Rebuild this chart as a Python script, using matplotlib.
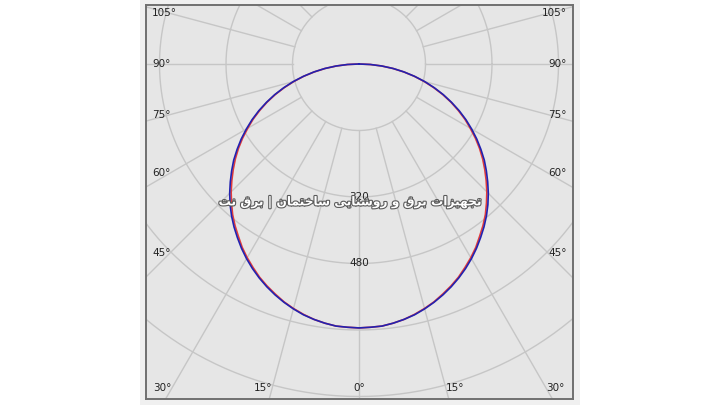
import numpy as np
import matplotlib
matplotlib.use("Agg")
import matplotlib.pyplot as plt
import matplotlib.patheffects as pe
from matplotlib.patches import Rectangle

# luminous intensity (cd) vs. angle from nadir, symmetric halves
angles = [0, 2.5, 5, 7.5, 10, 12.5, 15, 17.5, 20, 22.5, 25, 27.5, 30, 32.5, 35, 37.5,
          40, 42.5, 45, 47.5, 50, 52.5, 55, 57.5, 60, 62.5, 65, 67.5, 70, 72.5, 75,
          77.5, 80, 82.5, 85, 87.5, 90]
c0_c180 = [635, 634, 633, 629, 624, 617, 609, 600, 589, 578, 566, 552, 538, 523, 506, 490,
           473, 454, 435, 415, 395, 375, 354, 332, 309, 287, 263, 239, 214, 188, 162,
           136, 109, 82, 55, 27, 0]
c90_c270 = [635, 634, 633, 629, 624, 618, 610, 601, 591, 580, 568, 555, 541, 526, 510, 494,
            477, 459, 440, 420, 400, 380, 358, 336, 313, 290, 266, 241, 216, 190, 164,
            137, 110, 83, 55, 28, 0]

ring_values = [160, 320, 480, 640, 800]
ring_labels = ["320", "480"]
side_angles = [45, 60, 75, 90, 105]
bottom_angles = [0, 15, 30]

# watermark, already in visual order with Arabic presentation forms
words = [
    "\uFE97\uFEA0\uFEEC\uFEF4\uFEB0\uFE8D\uFE95",   # tajhizat
    "\uFE91\uFEAE\uFED5",                           # barq
    "\uFEED",                                       # va
    "\uFEAD\uFEED\uFEB7\uFEE8\uFE8E\uFEF3\uFEF0",   # roshanaei
    "\uFEB3\uFE8E\uFEA7\uFE98\uFEE4\uFE8E\uFEE5",   # sakhteman
    "|",
    "\uFE91\uFEAE\uFED5",                           # barq
    "\uFEE7\uFE96",                                 # net
]
watermark = " ".join(words)[::-1]

px = 160 / 66.5          # candela per pixel
ox, oy = 359, 64         # origin in image pixels


def to_x(p):
    return (p - ox) * px


def to_y(p):
    return (oy - p) * px


fig = plt.figure(figsize=(7.2, 4.05), dpi=100)
fig.patch.set_facecolor("white")
fig.patches.append(Rectangle((140 / 720, 0), 440 / 720, 1, transform=fig.transFigure,
                             facecolor="#f0f0f0", edgecolor="none", zorder=-1))

ax = fig.add_axes([146 / 720, 6 / 405, 427 / 720, 394 / 405])
ax.set_zorder(2)
ax.set_facecolor("#e6e6e6")
ax.set_xlim(to_x(146), to_x(573))
ax.set_ylim(to_y(399), to_y(5))
ax.set_xticks([])
ax.set_yticks([])
for s in ax.spines.values():
    s.set_color("#707070")
    s.set_linewidth(1.4)

grid_kw = dict(color="#c6c6c6", linewidth=1.0, zorder=1)
t = np.linspace(0, 2 * np.pi, 400)
for r in ring_values:
    ax.plot(r * np.cos(t), r * np.sin(t), **grid_kw)
for a in range(0, 360, 15):
    th = np.radians(a)
    ax.plot([160 * np.sin(th), 1200 * np.sin(th)],
            [-160 * np.cos(th), -1200 * np.cos(th)], **grid_kw)

# curves
th = np.radians(np.array(angles))
for vals, col in [(c0_c180, "#e23b3b"), (c90_c270, "#2222b0")]:
    v = np.array(vals)
    full_th = np.concatenate([-th[::-1], th[1:]])
    full_v = np.concatenate([v[::-1], v[1:]])
    ax.plot(full_v * np.sin(full_th), -full_v * np.cos(full_th),
            color=col, linewidth=1.2, zorder=3, solid_joinstyle="round")

lab_kw = dict(fontsize=7.5, color="#222222", zorder=4)
for a in side_angles:
    th = np.radians(a)
    yy = -(189 * px) * np.cos(th) / np.sin(th)
    ax.text(to_x(152), yy, f"{a}°", ha="left", va="center", **lab_kw)
    ax.text(to_x(567), yy, f"{a}°", ha="right", va="center", **lab_kw)
for a in bottom_angles:
    th = np.radians(a)
    xx = 324 * px * np.tan(th)
    yb = to_y(388)
    if a == 0:
        ax.text(0, yb, "0°", ha="center", va="center", **lab_kw)
    else:
        ax.text(-xx, yb, f"{a}°", ha="right", va="center", **lab_kw)
        ax.text(xx, yb, f"{a}°", ha="left", va="center", **lab_kw)

for lbl in ring_labels:
    ax.text(0, -float(lbl), lbl, ha="center", va="center", **lab_kw)

ax.text(to_x(350), to_y(202), watermark, ha="center", va="center",
        fontsize=8.8, fontweight="bold", color="white", family="DejaVu Sans",
        path_effects=[pe.withStroke(linewidth=1.6, foreground="#5a5a5a")], zorder=5)

fig.savefig("out.png", dpi=100)
